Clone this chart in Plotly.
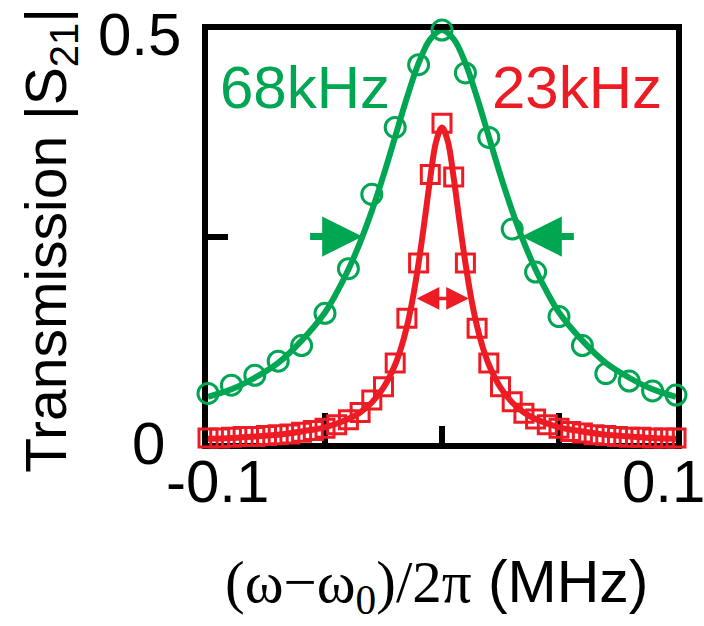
import plotly.graph_objects as go

# Measured transmission, broad resonance (circles)
green_x = [-0.10, -0.09, -0.08, -0.07, -0.06, -0.05, -0.04, -0.03, -0.02, -0.01, 0.00,
           0.01, 0.02, 0.03, 0.04, 0.05, 0.06, 0.07, 0.08, 0.09, 0.10]
green_y = [0.060, 0.070, 0.082, 0.099, 0.118, 0.157, 0.211, 0.301, 0.382, 0.458, 0.500,
           0.448, 0.370, 0.259, 0.207, 0.153, 0.118, 0.084, 0.075, 0.063, 0.058]

# Lorentzian fit, broad resonance
green_fit_x = [-0.10, -0.09, -0.08, -0.07, -0.06, -0.05, -0.045, -0.04, -0.035, -0.03, -0.025,
               -0.02, -0.015, -0.01, -0.005, 0.0, 0.005, 0.01, 0.015, 0.02, 0.025, 0.03,
               0.035, 0.04, 0.045, 0.05, 0.06, 0.07, 0.08, 0.09, 0.10]
green_fit_y = [0.056, 0.065, 0.079, 0.097, 0.124, 0.158, 0.182, 0.210, 0.243, 0.281, 0.324,
               0.371, 0.418, 0.460, 0.489, 0.500, 0.489, 0.460, 0.418, 0.371, 0.324, 0.281,
               0.243, 0.210, 0.182, 0.158, 0.124, 0.097, 0.079, 0.065, 0.056]

# Measured transmission, narrow resonance (squares)
red_x = [-0.100, -0.095, -0.090, -0.085, -0.080, -0.075, -0.070, -0.065, -0.060, -0.055,
         -0.050, -0.045, -0.040, -0.035, -0.030, -0.025, -0.020, -0.015, -0.010, -0.005,
         0.000, 0.005, 0.010, 0.015, 0.020, 0.025, 0.030, 0.035, 0.040, 0.045,
         0.050, 0.055, 0.060, 0.065, 0.070, 0.075, 0.080, 0.085, 0.090, 0.095, 0.100]
red_y = [0.006, 0.006, 0.007, 0.008, 0.008, 0.009, 0.010, 0.011, 0.013, 0.015,
         0.018, 0.022, 0.028, 0.037, 0.052, 0.068, 0.097, 0.151, 0.218, 0.325,
         0.387, 0.322, 0.218, 0.139, 0.097, 0.068, 0.050, 0.036, 0.029, 0.022,
         0.018, 0.014, 0.012, 0.010, 0.009, 0.008, 0.007, 0.007, 0.006, 0.006, 0.006]

# Lorentzian fit, narrow resonance
red_fit_x = [-0.10, -0.09, -0.08, -0.07, -0.06, -0.05, -0.04, -0.035, -0.03, -0.025, -0.02,
             -0.0175, -0.015, -0.0125, -0.01, -0.0075, -0.005, -0.0025, 0.0, 0.0025, 0.005,
             0.0075, 0.01, 0.0125, 0.015, 0.0175, 0.02, 0.025, 0.03, 0.035, 0.04, 0.05,
             0.06, 0.07, 0.08, 0.09, 0.10]
red_fit_y = [0.005, 0.006, 0.008, 0.010, 0.014, 0.019, 0.029, 0.037, 0.049, 0.067, 0.095,
             0.115, 0.141, 0.175, 0.218, 0.268, 0.321, 0.365, 0.382, 0.365, 0.321,
             0.268, 0.218, 0.175, 0.141, 0.115, 0.095, 0.067, 0.049, 0.037, 0.029, 0.019,
             0.014, 0.010, 0.008, 0.006, 0.005]

# Linewidth labels (kHz) and where they sit
green_label = "68kHz"
red_label = "23kHz"
green_fwhm = 0.068      # MHz
red_fwhm = 0.023        # MHz
green_half = 0.25       # half maximum of the broad peak
red_arrow_level = 0.175

x_tick_vals = [-0.1, 0.1]
x_tick_text = ["-0.1", "0.1"]
y_tick_vals = [0.0, 0.5]
y_tick_text = ["0", "0.5"]

GREEN = "#00A651"
RED = "#ED1C24"
SANS = "Liberation Sans, Arial, sans-serif"

fig = go.Figure()

fig.add_trace(go.Scatter(x=green_fit_x, y=green_fit_y, mode="lines",
                         line=dict(color=GREEN, width=6, shape="spline"),
                         cliponaxis=False, showlegend=False))
fig.add_trace(go.Scatter(x=green_x, y=green_y, mode="markers",
                         marker=dict(symbol="circle-open", size=20, color=GREEN,
                                     line=dict(width=3, color=GREEN)),
                         cliponaxis=False, showlegend=False))
fig.add_trace(go.Scatter(x=red_fit_x, y=red_fit_y, mode="lines",
                         line=dict(color=RED, width=6, shape="spline"),
                         cliponaxis=False, showlegend=False))
fig.add_trace(go.Scatter(x=red_x, y=red_y, mode="markers",
                         marker=dict(symbol="square-open", size=18, color=RED,
                                     line=dict(width=3, color=RED)),
                         cliponaxis=False, showlegend=False))

annotations = []

# Green half-maximum arrows pointing inward
for side in (-1, 1):
    annotations.append(dict(
        x=side * green_fwhm / 2, y=green_half, xref="x", yref="y",
        ax=side * (green_fwhm / 2 + 0.023), ay=green_half, axref="x", ayref="y",
        showarrow=True, arrowhead=2, arrowsize=1.15, arrowwidth=7,
        arrowcolor=GREEN, text="", standoff=0, startstandoff=0))

# Red double-headed arrow spanning the narrow linewidth
annotations.append(dict(
    x=red_fwhm / 2, y=red_arrow_level, xref="x", yref="y",
    ax=-red_fwhm / 2, ay=red_arrow_level, axref="x", ayref="y",
    showarrow=True, arrowhead=2, arrowside="end+start", arrowsize=1.3,
    arrowwidth=3.5, arrowcolor=RED, text="", standoff=0, startstandoff=0))

# Linewidth labels
annotations.append(dict(x=-0.0585, y=0.43, xref="x", yref="y", text=green_label,
                        showarrow=False, font=dict(family=SANS, size=60, color=GREEN)))
annotations.append(dict(x=0.0575, y=0.43, xref="x", yref="y", text=red_label,
                        showarrow=False, font=dict(family=SANS, size=60, color=RED)))

# Tick labels
y_xshifts = [-41, -25]
y_yshifts = [0, -4]
for v, t, sx, sy in zip(y_tick_vals, y_tick_text, y_xshifts, y_yshifts):
    annotations.append(dict(x=0, y=v, xref="paper", yref="y", text=t, showarrow=False,
                            xanchor="right", yanchor="middle", xshift=sx, yshift=sy,
                            font=dict(family=SANS, size=60, color="black")))
x_shifts = [9, -13]
for v, t, s in zip(x_tick_vals, x_tick_text, x_shifts):
    annotations.append(dict(x=v, y=0, xref="x", yref="paper", text=t, showarrow=False,
                            xanchor="center", yanchor="top", xshift=s, yshift=-3,
                            font=dict(family=SANS, size=60, color="black")))

# Axis titles
annotations.append(dict(x=0, y=0.49, xref="paper", yref="paper",
                        text="Transmission |S<sub>21</sub>|", textangle=-90,
                        showarrow=False, xanchor="center", yanchor="middle", xshift=-158,
                        font=dict(family=SANS, size=57, color="black")))
annotations.append(dict(x=0.489, y=0, xref="paper", yref="paper",
                        text=("<span style='font-family:Liberation Serif, Times New Roman, serif'>"
                              "(\u03c9\u2212\u03c9<sub>0</sub>)/2\u03c0</span> (MHz)"),
                        showarrow=False, xanchor="center", yanchor="middle", yshift=-143,
                        font=dict(family=SANS, size=59, color="black")))

fig.update_layout(
    width=704, height=626,
    margin=dict(l=208, r=28, t=30, b=183),
    paper_bgcolor="white", plot_bgcolor="white",
    annotations=annotations,
    xaxis=dict(range=[-0.1, 0.1], showgrid=False, zeroline=False,
               showline=True, linecolor="black", linewidth=6, mirror=True,
               tickmode="array", tickvals=[-0.05, 0.05], showticklabels=False,
               ticks="inside", ticklen=30, tickwidth=6, tickcolor="black",
               minor=dict(tick0=0, dtick=0.1, ticks="inside", ticklen=17,
                          tickwidth=6, tickcolor="black"),
               layer="below traces"),
    yaxis=dict(range=[0, 0.5], showgrid=False, zeroline=False,
               showline=True, linecolor="black", linewidth=6, mirror=True,
               tickmode="array", tickvals=[0.25], showticklabels=False,
               ticks="inside", ticklen=20, tickwidth=6, tickcolor="black",
               layer="below traces"),
)

fig.write_html("out.html")
